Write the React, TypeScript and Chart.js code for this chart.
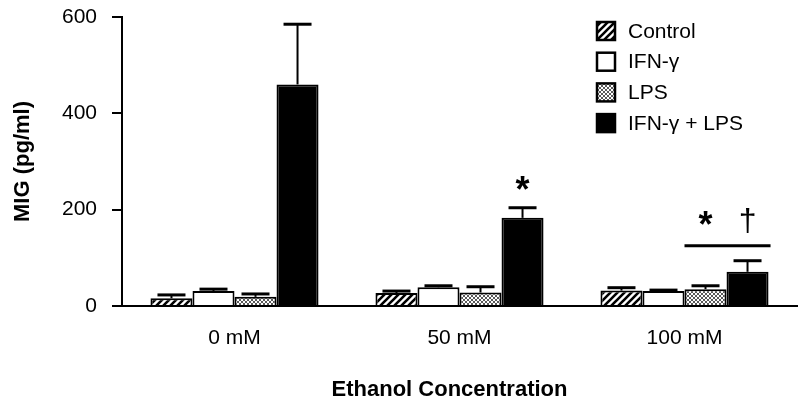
import { useEffect, useRef } from "react";
import { Chart, registerables } from "chart.js";

Chart.register(...registerables);

const FONT = "'Liberation Sans', Arial, Helvetica, sans-serif";

const categories = ["0 mM", "50 mM", "100 mM"];
const seriesLabels = ["Control", "IFN-γ", "LPS", "IFN-γ + LPS"];
const controlValues = [16, 27, 32];
const controlErrors = [7, 4, 6];
const ifnValues = [31, 39, 31];
const ifnErrors = [4, 3, 2];
const lpsValues = [19, 28, 35];
const lpsErrors = [6, 12, 7];
const comboValues = [460, 183, 71];
const comboErrors = [125, 21, 23];
const yMin = 0;
const yMax = 600;
const yStep = 200;
const yTitle = "MIG (pg/ml)";
const xTitle = "Ethanol Concentration";

// significance marks: category index, dataset index, symbol, value at symbol centre
const markCategories = [1, 2, 2];
const markDatasets = [3, 2, 3];
const markSymbols = ["*", "*", "†"];
const markValues = [258, 185, 174];
// bracket line over LPS..IFN-γ+LPS at 100 mM
const bracketCategory = 2;
const bracketFrom = 2;
const bracketTo = 3;
const bracketValue = 125;

function makeHatch(ctx: CanvasRenderingContext2D) {
  const s = 7;
  const c = document.createElement("canvas");
  c.width = s;
  c.height = s;
  const g = c.getContext("2d")!;
  g.fillStyle = "#fff";
  g.fillRect(0, 0, s, s);
  g.strokeStyle = "#000";
  g.lineWidth = 2.6;
  g.beginPath();
  g.moveTo(-1, s + 1);
  g.lineTo(s + 1, -1);
  g.moveTo(-1, 1);
  g.lineTo(1, -1);
  g.moveTo(s - 1, s + 1);
  g.lineTo(s + 1, s - 1);
  g.stroke();
  return ctx.createPattern(c, "repeat")!;
}

function makeCross(ctx: CanvasRenderingContext2D) {
  const s = 4;
  const c = document.createElement("canvas");
  c.width = s;
  c.height = s;
  const g = c.getContext("2d")!;
  g.fillStyle = "#fff";
  g.fillRect(0, 0, s, s);
  g.strokeStyle = "#5a5a5a";
  g.lineWidth = 1;
  g.beginPath();
  g.moveTo(0, 0);
  g.lineTo(s, s);
  g.moveTo(s, 0);
  g.lineTo(0, s);
  g.stroke();
  return ctx.createPattern(c, "repeat")!;
}

export default function App() {
  const ref = useRef<HTMLCanvasElement | null>(null);

  useEffect(() => {
    const canvas = ref.current;
    if (!canvas) return;
    const ctx = canvas.getContext("2d")!;
    const hatch = makeHatch(ctx);
    const cross = makeCross(ctx);
    const errors = [controlErrors, ifnErrors, lpsErrors, comboErrors];

    const extras = {
      id: "extras",
      afterDatasetsDraw(chart: any) {
        const c = chart.ctx as CanvasRenderingContext2D;
        const y = chart.scales.y;
        c.save();
        // error bars (upper only)
        chart.data.datasets.forEach((ds: any, di: number) => {
          const meta = chart.getDatasetMeta(di);
          meta.data.forEach((bar: any, i: number) => {
            const v = ds.data[i];
            const top = y.getPixelForValue(v + errors[di][i]);
            const base = y.getPixelForValue(v);
            c.strokeStyle = "#000";
            c.lineWidth = 2;
            c.beginPath();
            c.moveTo(bar.x, base);
            c.lineTo(bar.x, top);
            c.stroke();
            c.lineWidth = 3;
            c.beginPath();
            c.moveTo(bar.x - 14, top);
            c.lineTo(bar.x + 14, top);
            c.stroke();
          });
        });
        // significance symbols
        c.fillStyle = "#000";
        c.textAlign = "center";
        c.textBaseline = "alphabetic";
        markSymbols.forEach((sym, k) => {
          const bar = chart.getDatasetMeta(markDatasets[k]).data[markCategories[k]];
          const py = y.getPixelForValue(markValues[k]);
          if (sym === "*") {
            c.font = `bold 36px ${FONT}`;
            c.fillText(sym, bar.x, py + 0.57 * 36);
          } else {
            c.font = `32px ${FONT}`;
            c.fillText(sym, bar.x, py + 0.27 * 32);
          }
        });
        // bracket line
        const b1 = chart.getDatasetMeta(bracketFrom).data[bracketCategory];
        const b2 = chart.getDatasetMeta(bracketTo).data[bracketCategory];
        const by = y.getPixelForValue(bracketValue);
        c.lineWidth = 3;
        c.beginPath();
        c.moveTo(b1.x - b1.width / 2, by);
        c.lineTo(b2.x + b2.width / 2 + 2, by);
        c.stroke();

        // legend
        const lx = 597;
        const ly0 = 31;
        const step = 30.7;
        c.font = `21px ${FONT}`;
        c.textAlign = "left";
        c.textBaseline = "middle";
        chart.data.datasets.forEach((ds: any, di: number) => {
          const cy = ly0 + di * step;
          c.fillStyle = ds.backgroundColor;
          c.fillRect(lx, cy - 9, 18, 18);
          c.strokeStyle = "#000";
          c.lineWidth = 2.5;
          c.strokeRect(lx, cy - 9, 18, 18);
          c.fillStyle = "#000";
          c.fillText(ds.label, lx + 31, cy + 1);
        });

        // x axis title
        const area = chart.chartArea;
        c.font = `bold 22px ${FONT}`;
        c.textAlign = "center";
        c.textBaseline = "alphabetic";
        c.fillText(xTitle, (area.left + area.right) / 2 - 10, 396);
        c.restore();
      },
    };

    const chart = new Chart(ctx, {
      type: "bar",
      data: {
        labels: categories,
        datasets: [
          { label: seriesLabels[0], data: controlValues, backgroundColor: hatch as any },
          { label: seriesLabels[1], data: ifnValues, backgroundColor: "#ffffff" },
          { label: seriesLabels[2], data: lpsValues, backgroundColor: cross as any },
          { label: seriesLabels[3], data: comboValues, backgroundColor: "#000000" },
        ].map((d) => ({
          ...d,
          borderColor: "#000",
          borderWidth: 2,
          categoryPercentage: 0.747,
          barPercentage: 1,
        })),
      },
      options: {
        animation: false,
        responsive: false,
        layout: { padding: { top: 17, right: 3, left: 0, bottom: 0 } },
        plugins: {
          legend: { display: false },
          tooltip: { enabled: false },
        },
        scales: {
          x: {
            grid: { display: true, drawOnChartArea: false, drawTicks: false },
            border: { display: true, color: "#000", width: 2 },
            ticks: {
              color: "#000",
              font: { family: FONT, size: 21 },
              padding: 20,
            },
            afterFit(scale: any) {
              scale.height = 102;
              scale.paddingLeft = 0;
              scale.paddingRight = 0;
            },
          },
          y: {
            min: yMin,
            max: yMax,
            ticks: {
              stepSize: yStep,
              color: "#000",
              font: { family: FONT, size: 21 },
              padding: 15,
            },
            grid: {
              drawOnChartArea: false,
              drawTicks: true,
              tickLength: 10,
              color: "#000",
              lineWidth: 2,
            },
            border: { display: true, color: "#000", width: 2 },
            title: {
              display: true,
              text: yTitle,
              color: "#000",
              font: { family: FONT, size: 22, weight: "bold" },
              padding: { top: 10, bottom: 0 },
            },
            afterFit(scale: any) {
              scale.width = 122;
              scale.paddingTop = 0;
              scale.paddingBottom = 0;
            },
          },
        },
      },
      plugins: [extras],
    });

    return () => chart.destroy();
  }, []);

  return (
    <canvas
      ref={ref}
      width={800}
      height={408}
      style={{ position: "absolute", left: 0, top: 0, display: "block", background: "#fff" }}
    />
  );
}
